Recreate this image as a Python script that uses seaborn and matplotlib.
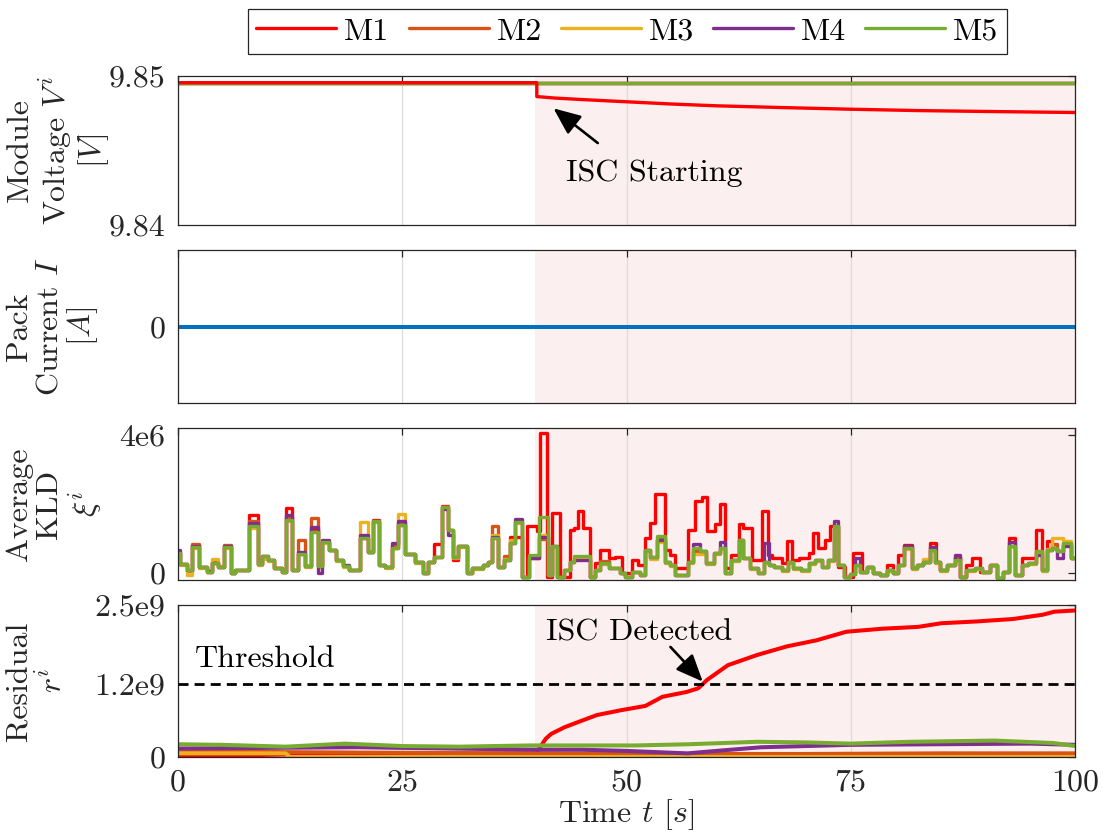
import matplotlib
matplotlib.use("Agg")
import numpy as np
import pandas as pd
import matplotlib.pyplot as plt
from matplotlib.lines import Line2D
import seaborn as sns

# ---------------- data ----------------
SERIES = ["M1", "M2", "M3", "M4", "M5"]
COLORS = ["#FF0000", "#D95319", "#EDB120", "#7E2F8E", "#77AC30"]
TIME_TICKS = [0, 25, 50, 75, 100]
ISC_START = 39.8

# Module voltage [V]
VOLT_T_FLAT = [0.0, 100.0]
VOLT_FLAT = [9.84955, 9.84955]
VOLT_T_M1 = [0.0, 40.0, 40.0, 42.0, 45.0, 50.0, 55.0, 60.0, 67.5, 75.0, 82.5, 90.0, 100.0]
VOLT_M1 = [9.84955, 9.84955, 9.84862, 9.84852, 9.84842, 9.84827, 9.84812, 9.84800,
           9.84788, 9.84777, 9.84768, 9.84762, 9.84755]

# Pack current [A]
CUR_T = [0.0, 100.0]
CUR_I = [0.0, 0.0]

# Average KLD (units of 1e6) - step segments start times
KLD_T = [0.0, 0.23, 0.97, 1.55, 2.35, 3.2, 3.83, 4.5, 5.17, 5.9,
         6.4, 7.9, 8.9, 9.4, 10.0, 10.75, 11.6, 12.05, 12.75, 13.35,
         14.2, 14.8, 15.6, 16.1, 16.85, 17.6, 18.4, 19.1, 20.3, 21.15,
         21.7, 22.4, 23.1, 23.9, 24.5, 25.3, 26.4, 27.35, 27.9, 28.5,
         29.4, 30.1, 30.7, 31.25, 32.2, 32.75, 34.05, 34.6, 35.0, 35.7,
         36.3, 37.0, 37.6, 38.3, 39.1, 40.2, 41.3, 41.7, 42.2, 43.0,
         43.7, 44.1, 45.9, 46.5, 47.1, 48.0, 49.3, 49.8, 50.6, 51.5,
         52.1, 52.6, 53.4, 54.3, 54.85, 55.4, 56.9, 57.45, 58.2, 58.9,
         59.7, 60.4, 61.0, 61.7, 62.5, 63.0, 63.8, 64.7, 65.3, 65.9,
         66.4, 67.3, 68.0, 68.6, 69.5, 70.3, 71.0, 71.8, 72.5, 73.1,
         73.6, 74.2, 74.9, 75.5, 76.0, 76.8, 77.5, 78.3, 79.0, 79.75,
         80.3, 80.9, 81.8, 82.4, 83.1, 83.8, 84.4, 85.0, 85.7, 86.6,
         87.2, 87.9, 88.9, 89.6, 90.5, 91.3, 92.0, 92.6, 93.3, 94.1,
         94.8, 95.6, 96.3, 96.9, 97.4, 98.0, 98.7, 99.5]

KLD_M5 = [0.58, 0.25, 0.08, 0.75, 0.18, 0.02, 0.30, 0.18, 0.75, 0.00,
          0.10, 1.35, 0.25, 0.50, 0.38, 0.15, 0.03, 1.55, 0.08, 0.55,
          0.20, 1.20, 0.20, 0.90, 0.68, 0.38, 0.20, 0.10, 1.03, 0.62,
          1.50, 0.24, 0.17, 0.74, 1.40, 0.55, 0.33, 0.00, 0.33, 0.48,
          1.90, 1.26, 0.48, 0.77, 0.00, 0.14, 0.24, 0.33, 1.02, 0.19,
          0.38, 0.87, 1.47, -0.12, 0.53, 1.62, -0.06, 0.77, -0.10, 0.09,
          0.33, 0.50, -0.10, 0.09, 0.28, 0.14, 0.00, -0.10, 0.04, -0.06,
          0.68, 0.48, 1.07, 0.33, 0.24, -0.06, 0.33, 0.73, 0.63, 0.28,
          0.58, 0.73, 0.00, 0.38, 0.97, 0.43, 0.14, 0.00, 0.33, 0.24,
          0.19, 0.09, 0.33, 0.14, 0.09, 0.28, 0.38, 0.19, 0.38, 1.36,
          0.24, -0.10, -0.03, 0.24, 0.04, 0.19, 0.00, -0.06, 0.09, 0.00,
          0.24, 0.73, 0.14, 0.24, 0.33, 0.68, 0.33, 0.09, 0.24, 0.38,
          -0.10, 0.09, 0.14, 0.04, 0.24, -0.15, 0.04, 0.77, -0.06, 0.24,
          0.28, 0.63, 0.09, 0.68, 0.73, 0.63, 0.87, 0.43]

KLD_M4 = [0.68, 0.25, 0.08, 0.78, 0.18, 0.06, 0.30, 0.18, 0.78, 0.00,
          0.10, 1.45, 0.25, 0.50, 0.38, 0.15, 0.03, 1.68, 0.08, 0.60,
          0.20, 1.32, 0.00, 0.95, 0.68, 0.38, 0.24, 0.10, 1.10, 0.62,
          1.50, 0.24, 0.17, 0.88, 1.52, 0.55, 0.33, 0.00, 0.33, 0.48,
          1.85, 1.10, 0.48, 0.77, 0.00, 0.14, 0.24, 0.33, 1.05, 0.19,
          0.38, 0.87, 1.56, -0.12, 0.45, 1.05, -0.06, 0.77, -0.10, 0.09,
          0.33, 0.38, -0.10, 0.09, 0.28, 0.14, 0.00, -0.10, 0.04, -0.06,
          0.68, 0.48, 0.95, 0.33, 0.24, -0.06, 0.33, 0.85, 0.63, 0.28,
          0.58, 0.90, 0.00, 0.38, 0.97, 0.43, 0.14, 0.00, 0.87, 0.24,
          0.19, 0.09, 0.33, 0.14, 0.09, 0.28, 0.38, 0.19, 0.38, 1.50,
          0.24, -0.10, -0.03, 0.45, 0.04, 0.19, 0.00, -0.06, 0.09, 0.00,
          0.24, 0.78, 0.14, 0.24, 0.33, 0.75, 0.33, 0.09, 0.24, 0.53,
          -0.10, 0.09, 0.14, 0.04, 0.24, -0.15, 0.04, 0.90, -0.06, 0.24,
          0.28, 0.53, 0.09, 0.68, 0.73, 0.45, 0.78, 0.43]

KLD_M3 = [0.55, 0.22, -0.05, 0.72, 0.15, 0.02, 0.42, 0.20, 0.72, 0.00,
          0.08, 1.30, 0.22, 0.40, 0.36, 0.15, 0.03, 1.50, 0.08, 0.55,
          0.18, 1.18, 0.18, 0.88, 0.66, 0.36, 0.18, 0.10, 1.47, 0.62,
          1.48, 0.22, 0.15, 0.72, 1.70, 0.55, 0.30, 0.00, 0.33, 0.48,
          1.90, 1.26, 0.45, 0.75, 0.00, 0.12, 0.22, 0.33, 1.10, 0.19,
          0.40, 0.95, 1.45, -0.12, 0.45, 1.10, -0.06, 0.75, -0.10, 0.09,
          0.33, 0.45, -0.10, 0.09, 0.25, 0.14, 0.00, -0.10, 0.04, -0.06,
          0.65, 0.40, 0.90, 0.30, 0.20, -0.06, 0.30, 0.55, 0.55, 0.25,
          0.55, 0.70, 0.00, 0.35, 0.95, 0.43, 0.12, 0.00, 0.30, 0.22,
          0.17, 0.07, 0.30, 0.12, 0.07, 0.26, 0.36, 0.17, 0.36, 1.30,
          0.22, -0.10, -0.03, 0.22, 0.04, 0.17, 0.00, -0.06, 0.07, 0.00,
          0.22, 0.70, 0.12, 0.22, 0.40, 0.65, 0.30, 0.07, 0.22, 0.36,
          -0.10, 0.07, 0.12, 0.02, 0.22, -0.15, 0.02, 0.75, -0.06, 0.22,
          0.26, 0.60, 0.07, 0.70, 1.02, 1.02, 0.92, 0.43]

KLD_M2 = [0.60, 0.25, 0.05, 0.85, 0.18, 0.02, 0.32, 0.18, 0.80, 0.00,
          0.10, 1.50, 0.25, 0.45, 0.38, 0.15, 0.03, 1.60, 0.08, 0.97,
          0.20, 1.60, 0.20, 0.90, 0.68, 0.38, 0.20, 0.10, 1.03, 0.62,
          1.50, 0.24, 0.17, 0.80, 1.45, 0.55, 0.33, 0.00, 0.33, 0.48,
          1.90, 1.26, 0.48, 0.77, 0.00, 0.14, 0.24, 0.33, 1.36, 0.19,
          0.50, 0.87, 1.47, -0.12, 0.45, 1.00, -0.06, 0.77, -0.10, 0.09,
          0.33, 0.45, -0.10, 0.09, 0.35, 0.14, 0.00, -0.10, 0.04, -0.06,
          0.68, 0.45, 1.00, 0.33, 0.24, -0.06, 0.33, 0.65, 0.63, 0.28,
          0.58, 0.73, 0.00, 0.38, 0.97, 0.43, 0.14, 0.00, 0.33, 0.24,
          0.19, 0.09, 0.33, 0.14, 0.09, 0.28, 0.38, 0.19, 0.38, 1.36,
          0.24, -0.10, -0.03, 0.24, 0.04, 0.19, 0.00, -0.06, 0.09, 0.00,
          0.24, 0.73, 0.14, 0.24, 0.33, 0.68, 0.33, 0.09, 0.24, 0.45,
          -0.10, 0.09, 0.14, 0.04, 0.24, -0.15, 0.04, 0.77, -0.06, 0.24,
          0.28, 0.63, 0.09, 0.68, 0.85, 0.63, 0.87, 0.43]

KLD_T_M1 = [0.0, 0.23, 0.97, 1.55, 2.35, 3.2, 3.83, 4.5, 5.17, 5.9,
            6.4, 7.9, 8.9, 9.4, 10.0, 10.75, 11.6, 12.05, 12.75, 13.35,
            14.2, 14.8, 15.6, 16.1, 16.85, 17.6, 18.4, 19.1, 20.3, 21.15,
            21.7, 22.4, 23.1, 23.9, 24.5, 25.3, 26.4, 27.35, 27.9, 28.5,
            29.4, 30.1, 30.7, 31.25, 32.2, 32.75, 34.05, 34.6, 35.0, 35.7,
            36.3, 37.0, 37.6, 38.3, 38.9, 40.0, 40.4, 41.1, 41.7, 42.6,
            43.7, 44.1, 44.6, 45.2, 45.9, 46.5, 47.1, 48.0, 48.7, 49.5,
            50.6, 51.3, 52.1, 52.6, 53.2, 54.3, 54.85, 55.4, 56.9, 57.6,
            58.4, 58.95, 59.9, 60.4, 61.0, 61.7, 62.5, 63.0, 64.0, 65.1,
            65.8, 66.2, 67.3, 67.9, 68.4, 69.2, 70.3, 70.8, 71.4, 72.1,
            72.7, 73.6, 74.4, 75.3, 76.2, 76.8, 77.5, 78.3, 79.0, 79.75,
            80.3, 80.9, 81.8, 82.4, 83.1, 83.8, 84.5, 85.0, 85.7, 86.6,
            87.2, 87.9, 88.5, 89.4, 90.5, 91.3, 92.0, 92.6, 93.3, 94.1,
            95.6, 96.3, 96.9, 97.4, 98.0, 98.7, 99.5]

KLD_M1 = [0.58, 0.25, 0.05, 0.82, 0.18, 0.02, 0.30, 0.18, 0.78, 0.00,
          0.10, 1.68, 0.25, 0.50, 0.38, 0.15, 0.03, 1.88, 0.08, 0.55,
          0.20, 1.25, 0.20, 0.90, 0.68, 0.38, 0.20, 0.10, 1.03, 0.62,
          1.55, 0.24, 0.17, 0.74, 1.40, 0.55, 0.33, 0.00, 0.33, 0.85,
          1.95, 1.26, 0.38, 0.77, 0.00, 0.14, 0.24, 0.33, 1.02, 0.19,
          0.38, 1.05, 1.05, -0.10, 1.37, 1.22, 4.05, -0.10, 1.75, -0.10,
          1.26, 1.31, 1.80, 1.31, -0.10, 0.28, 0.68, 0.43, 0.48, 0.00,
          0.38, 0.24, 1.02, 1.46, 2.30, 0.68, 0.53, 0.14, 1.26, 2.10,
          2.20, 1.21, 1.41, 2.00, 0.14, 0.53, 1.41, 1.31, 0.38, 1.80,
          0.53, 0.43, 0.28, 0.92, 0.38, 0.43, 0.58, 1.16, 0.73, 0.97,
          1.36, 0.19, -0.10, 0.58, 0.04, 0.19, 0.00, -0.06, 0.24, 0.00,
          0.53, 0.82, 0.14, 0.24, 0.33, 0.87, 0.33, 0.09, 0.24, 0.48,
          -0.10, 0.24, 0.43, 0.04, 0.24, -0.15, 0.04, 1.02, -0.06, 0.43,
          1.26, 0.09, 0.92, 0.73, 0.63, 0.80, 0.43]

# Residual (units of 1e9)
RES_T_M1 = [0, 12, 39.9, 41.0, 41.6, 43.1, 44.7, 46.7, 49.4, 52.1, 54.0, 56.7, 58.0,
            59.0, 61.3, 64.6, 67.9, 71.2, 74.5, 78.5, 82.5, 85.1, 89.1, 93.1, 96.4, 97.7, 100]
RES_M1 = [0.01, 0.04, 0.06, 0.30, 0.38, 0.49, 0.58, 0.69, 0.77, 0.84, 0.99, 1.07, 1.13,
          1.27, 1.51, 1.68, 1.82, 1.92, 2.06, 2.11, 2.14, 2.20, 2.23, 2.27, 2.34, 2.39, 2.41]
RES_T_M2 = [0, 12, 25, 40, 55, 70, 85, 100]
RES_M2 = [0.11, 0.08, 0.07, 0.06, 0.05, 0.05, 0.06, 0.06]
RES_T_M3 = [0, 12, 12.5, 100]
RES_M3 = [0.06, 0.06, 0.0, 0.0]
RES_T_M4 = [0, 10, 20, 30, 40, 45, 50, 56.8, 60, 65, 75, 85, 95, 100]
RES_M4 = [0.14, 0.15, 0.16, 0.14, 0.12, 0.12, 0.10, 0.06, 0.10, 0.16, 0.20, 0.21, 0.22, 0.20]
RES_T_M5 = [0, 5, 12, 18.6, 25, 31.4, 39, 45, 51, 57, 64.6, 70, 75, 81.5, 91, 97.6, 100]
RES_M5 = [0.21, 0.20, 0.17, 0.22, 0.18, 0.17, 0.19, 0.19, 0.19, 0.21, 0.25, 0.24, 0.22,
          0.25, 0.27, 0.23, 0.18]
THRESHOLD = 1.2  # 1e9

# ---------------- style ----------------
FS = 23
sns.set_theme(style="white")
plt.rcParams.update({
    "font.family": ["cmr10", "DejaVu Serif"],
    "mathtext.fontset": "cm",
    "axes.formatter.use_mathtext": True,
    "axes.unicode_minus": False,
    "font.size": FS,
    "axes.edgecolor": "#262626",
    "axes.linewidth": 0.9,
    "xtick.color": "#262626",
    "ytick.color": "#262626",
    "text.color": "#262626",
    "axes.labelcolor": "#262626",
})

fig = plt.figure(figsize=(11.2, 8.4), dpi=100)
W, H = 1120.0, 840.0
L, R = 178.0, 1075.0
panels_px = [(76, 225), (250, 403), (428, 580), (605, 757)]
axes = []
for top, bot in panels_px:
    ax = fig.add_axes([L / W, 1 - bot / H, (R - L) / W, (bot - top) / H])
    axes.append(ax)


def style_axis(ax, show_xlabels=False):
    ax.set_xlim(0, 100)
    ax.set_xticks(TIME_TICKS)
    ax.axvspan(ISC_START, 100, color="#FCEFEF", lw=0, zorder=0)
    ax.set_axisbelow(True)
    ax.grid(axis="x", color="#DCDCDC", lw=0.9)
    ax.grid(axis="y", visible=False)
    ax.tick_params(direction="in", length=5, width=0.9, top=True, right=True,
                   labelsize=FS, pad=9, labelbottom=show_xlabels)
    for s in ax.spines.values():
        s.set_visible(True)
        s.set_color("#262626")
        s.set_linewidth(0.9)


def step_line(ax, t, v, scale, color, lw):
    x = list(t) + [100.0]
    y = (np.array(list(v) + [v[-1]]) * scale)
    sns.lineplot(x=x, y=y, ax=ax, color=color, lw=lw, drawstyle="steps-post",
                 estimator=None, sort=False, errorbar=None, legend=False,
                 solid_joinstyle="round")


def plain_line(ax, t, v, scale, color, lw, **kw):
    sns.lineplot(x=t, y=np.array(v) * scale, ax=ax, color=color, lw=lw,
                 estimator=None, sort=False, errorbar=None, legend=False, **kw)


label_x = (6 - L) / (R - L)
YLAB = dict(va="top", ha="center", multialignment="center", linespacing=1.1, fontsize=FS)
ARROW = dict(arrowstyle="-|>,head_length=0.75,head_width=0.32", color="black",
             lw=1.9, mutation_scale=22, shrinkA=0, shrinkB=0)

# ---- Panel 1: module voltage
ax = axes[0]
style_axis(ax)
for c in COLORS[1:]:
    plain_line(ax, VOLT_T_FLAT, VOLT_FLAT, 1.0, c, 2.4)
plain_line(ax, VOLT_T_M1, VOLT_M1, 1.0, COLORS[0], 2.4)
ax.set_ylim(9.84, 9.85)
ax.set_yticks([9.84, 9.85])
ax.set_yticklabels(["9.84", "9.85"])
ax.set_ylabel("Module\nVoltage $V^i$\n$[V]$", **YLAB)
ax.yaxis.set_label_coords(label_x, 0.5)
ax.annotate("", xy=(41.86, 9.84783), xytext=(46.8, 9.8455), arrowprops=ARROW)
ax.text(43.3, 9.84349, "ISC Starting", fontsize=FS, va="center", ha="left",
        color="black")

# ---- Panel 2: pack current
ax = axes[1]
style_axis(ax)
plain_line(ax, CUR_T, CUR_I, 1.0, "#0072BD", 2.9)
ax.set_ylim(-1, 1)
ax.set_yticks([0])
ax.set_yticklabels(["0"])
ax.set_ylabel("Pack\nCurrent $I$\n$[A]$", **YLAB)
ax.yaxis.set_label_coords(label_x, 0.5)

# ---- Panel 3: average KLD
ax = axes[2]
style_axis(ax)
step_line(ax, KLD_T_M1, KLD_M1, 1e6, COLORS[0], 2.4)
step_line(ax, KLD_T, KLD_M2, 1e6, COLORS[1], 2.4)
step_line(ax, KLD_T, KLD_M3, 1e6, COLORS[2], 2.4)
step_line(ax, KLD_T, KLD_M4, 1e6, COLORS[3], 2.4)
step_line(ax, KLD_T, KLD_M5, 1e6, COLORS[4], 2.4)
ax.set_ylim(-0.2e6, 4.2e6)
ax.set_yticks([0, 4e6])
ax.set_yticklabels(["0", "4e6"])
ax.set_ylabel("Average\nKLD\n$\\xi^i$", **YLAB)
ax.yaxis.set_label_coords(label_x, 0.5)

# ---- Panel 4: residual
ax = axes[3]
style_axis(ax, show_xlabels=True)
plain_line(ax, RES_T_M1, RES_M1, 1e9, COLORS[0], 2.9)
plain_line(ax, RES_T_M2, RES_M2, 1e9, COLORS[1], 2.9)
plain_line(ax, RES_T_M3, RES_M3, 1e9, COLORS[2], 2.9)
plain_line(ax, RES_T_M4, RES_M4, 1e9, COLORS[3], 2.9)
plain_line(ax, RES_T_M5, RES_M5, 1e9, COLORS[4], 2.9)
ax.axhline(THRESHOLD * 1e9, color="black", lw=2.0, dashes=(3.6, 2.2), zorder=3)
ax.set_ylim(0, 2.5e9)
ax.set_yticks([0, 1.2e9, 2.5e9])
ax.set_yticklabels(["0", "1.2e9", "2.5e9"])
ax.set_xticklabels([str(t) for t in TIME_TICKS])
ax.set_ylabel("Residual\n$r^i$", **YLAB)
ax.yaxis.set_label_coords(label_x, 0.5)
ax.set_xlabel("Time $t$ $[s]$", fontsize=FS, va="top")
ax.xaxis.set_label_coords(0.5, -0.265)
ax.text(1.9, 1.6e9, "Threshold", fontsize=FS, va="center", ha="left", color="black")
ax.text(41.0, 2.04e9, "ISC Detected", fontsize=FS, va="center", ha="left", color="black")
ax.annotate("", xy=(58.5, 1.24e9), xytext=(54.9, 1.81e9), arrowprops=ARROW)

# ---- legend
handles = [Line2D([0], [0], color=c, lw=2.4) for c in COLORS]
leg = fig.legend(handles, SERIES, loc="center", ncol=5,
                 bbox_to_anchor=(627.5 / W, 1 - 31.5 / H), fontsize=FS,
                 frameon=True, fancybox=False, framealpha=1, edgecolor="#262626",
                 handlelength=2.5, handletextpad=0.25, columnspacing=0.6,
                 borderpad=0.25)
leg.get_frame().set_linewidth(0.9)
for txt in leg.get_texts():
    txt.set_color("black")

fig.savefig("out.png", dpi=100, facecolor="white")
